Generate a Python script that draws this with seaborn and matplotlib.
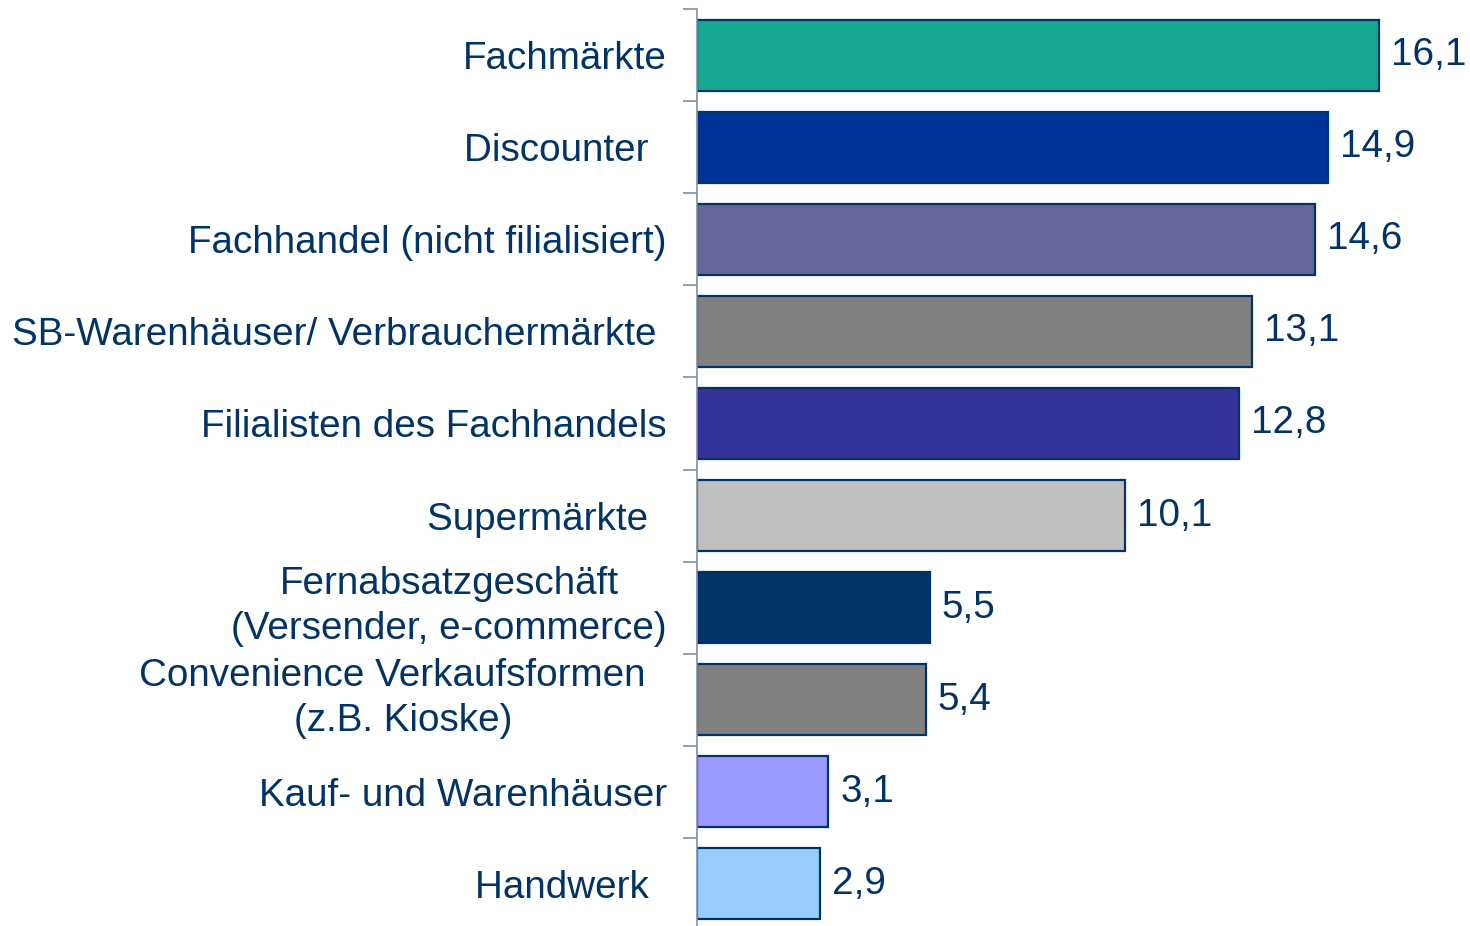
import matplotlib
matplotlib.use("Agg")
import matplotlib.pyplot as plt
import matplotlib.transforms as mtrans
import seaborn as sns
import pandas as pd
import numpy as np

categories = [
    "Fachmärkte",
    "Discounter \u2009",
    "Fachhandel (nicht filialisiert)",
    "SB-Warenhäuser/ Verbrauchermärkte ",
    "Filialisten des Fachhandels",
    "Supermärkte \u2009",
    "Fernabsatzgeschäft\n(Versender, e-commerce)",
    "Convenience Verkaufsformen  \n(z.B. Kioske)",
    "Kauf- und Warenhäuser",
    "Handwerk \u2009",
]
values = [16.1, 14.9, 14.6, 13.1, 12.8, 10.1, 5.5, 5.4, 3.1, 2.9]
value_labels = ["16,1", "14,9", "14,6", "13,1", "12,8", "10,1", "5,5", "5,4", "3,1", "2,9"]
colors = ["#17A892", "#003399", "#666699", "#808080", "#333399",
          "#C0C0C0", "#003366", "#808080", "#9999FF", "#99CCFF"]

sns.set_theme(style="white")
plt.rcParams["font.family"] = ["Liberation Sans", "DejaVu Sans"]

df = pd.DataFrame({"cat": categories, "val": values})

fig = plt.figure(figsize=(14.7, 9.26), dpi=100)
ax = fig.add_axes([697 / 1470, (926 - 930) / 926, 1 - 697 / 1470, (930 - 9) / 926])

sns.barplot(data=df, y="cat", x="val", hue="cat", palette=colors, legend=False,
            orient="h", width=0.77, edgecolor="#003366", linewidth=1.6, ax=ax,
            saturation=1)

ax.set_xlim(0, (1470 - 697) / (682 / 16.1))
ax.set_ylim(len(categories) - 0.5, -0.5)
ax.set_xlabel("")
ax.set_ylabel("")
ax.set_xticks([])

for sp in ["top", "right", "bottom"]:
    ax.spines[sp].set_visible(False)
ax.spines["left"].set_color("#8090A8")
ax.spines["left"].set_linewidth(1.2)

txt_color = "#003366"
fs = 27.8
ax.set_yticks(range(len(categories)))
ax.set_yticklabels(categories, fontsize=fs, color=txt_color, ha="center",
                   multialignment="center", linespacing=1.32)
ax.tick_params(axis="y", which="major", length=0, pad=0)
ax.set_yticks(np.arange(-0.5, len(categories), 1), minor=True)
ax.tick_params(axis="y", which="minor", length=10, width=1.2, color="#8090A8", left=True)

# centre the labels in front of the axis
fig.canvas.draw()
renderer = fig.canvas.get_renderer()
for lab in ax.get_yticklabels():
    w = lab.get_window_extent(renderer).width
    x_px_off = -(w / 2 + 30)
    y_px_off = 10 if "\n" in lab.get_text() else 0
    lab.set_transform(lab.get_transform() +
                      mtrans.ScaledTranslation(x_px_off / 100, y_px_off / 100,
                                               fig.dpi_scale_trans))

for i, (v, s) in enumerate(zip(values, value_labels)):
    ax.text(v + 0.28, i, s, fontsize=fs, color=txt_color, va="center", ha="left")

fig.savefig("out.png", dpi=100)
